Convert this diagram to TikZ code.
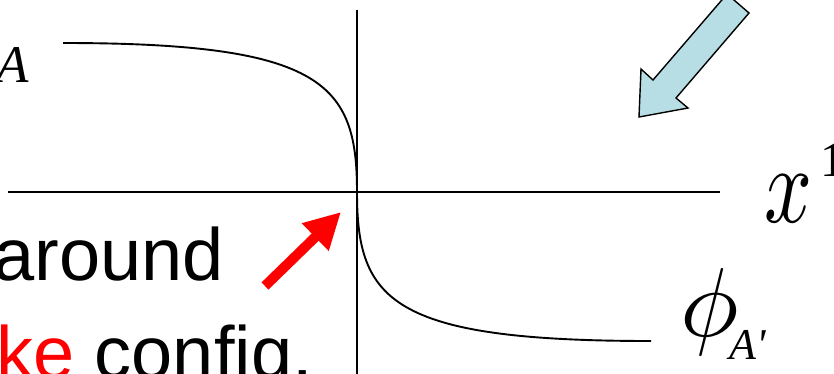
\documentclass[tikz,border=0pt]{standalone}
\usepackage{fontspec}
\setmainfont{Liberation Sans}
\newfontfamily\serif{Liberation Serif}
\usepackage{graphicx}
\usepackage{tikz}
\usetikzlibrary{positioning,arrows.meta}
\definecolor{kinkred}{HTML}{FF0000}
\definecolor{paleblue}{HTML}{B7DEE4}

\begin{document}
\begin{tikzpicture}[x=1pt, y=-1pt,
      axis/.style={line width=1.9pt},
      kink/.style={line width=1.9pt},
      sym/.style={inner sep=0pt, font=\serif\itshape},
      words/.style={inner sep=0pt, font=\fontsize{74}{80}\selectfont},
      pointer/.style={kinkred, line width=10pt, -{Triangle[length=36pt,width=36pt]}}]
    \useasboundingbox (0,0) rectangle (834,373);
    % axes
    \coordinate (origin) at (357,192);
    \coordinate (xleft) at (8,192);
    \coordinate (xright) at (720,192);
    \coordinate (ytop) at (357,10);
    \coordinate (ybot) at (357,380);
    \draw[axis] (xleft) -- (xright);
    \draw[axis] (ytop) -- (ybot);
    % the kink profile
    \coordinate (kinkL) at (63,43);
    \coordinate (kinkR) at (651,341);
    \draw[kink] (kinkL) .. controls (324,43) and (357,84) .. (origin)
                         .. controls (357,300) and (390,341) .. (kinkR);
    % labels
    \node[sym, anchor=base east, font=\serif\itshape\fontsize{53}{55}\selectfont] (vacA) at (29,82) {A};
    \node[sym, anchor=base west, font=\normalfont] (xone) at (764,222) {\scalebox{8.4}[11]{$x$}};
    \node[sym, anchor=base west, font=\serif\fontsize{49}{50}\selectfont] (xsup) at (820,176) {1};
    \node[sym, anchor=base west, font=\normalfont] (phi) at (680,336) {\scalebox{9.8}{$\phi$}};
    \node[sym, anchor=base west, font=\serif\itshape\fontsize{44}{46}\selectfont] (vacAp) at (729,359) {A\textquotesingle};
    \node[words, anchor=base east] (around) at (224,280) {around};
    \node[words, anchor=base east] (config) at (313,378) {\textcolor{kinkred}{ke} config.};
    % arrows
    \coordinate (rtail) at (265,286);
    \coordinate (rtip) at (341,212);
    \draw[pointer] (rtail) -- (rtip);
    \draw[line width=1.4pt, fill=paleblue] (639,117) -- (641,69) -- (653,80) -- (727,-6)
        -- (749,13) -- (676,98) -- (688,108) -- cycle;
  \end{tikzpicture}
\end{document}
